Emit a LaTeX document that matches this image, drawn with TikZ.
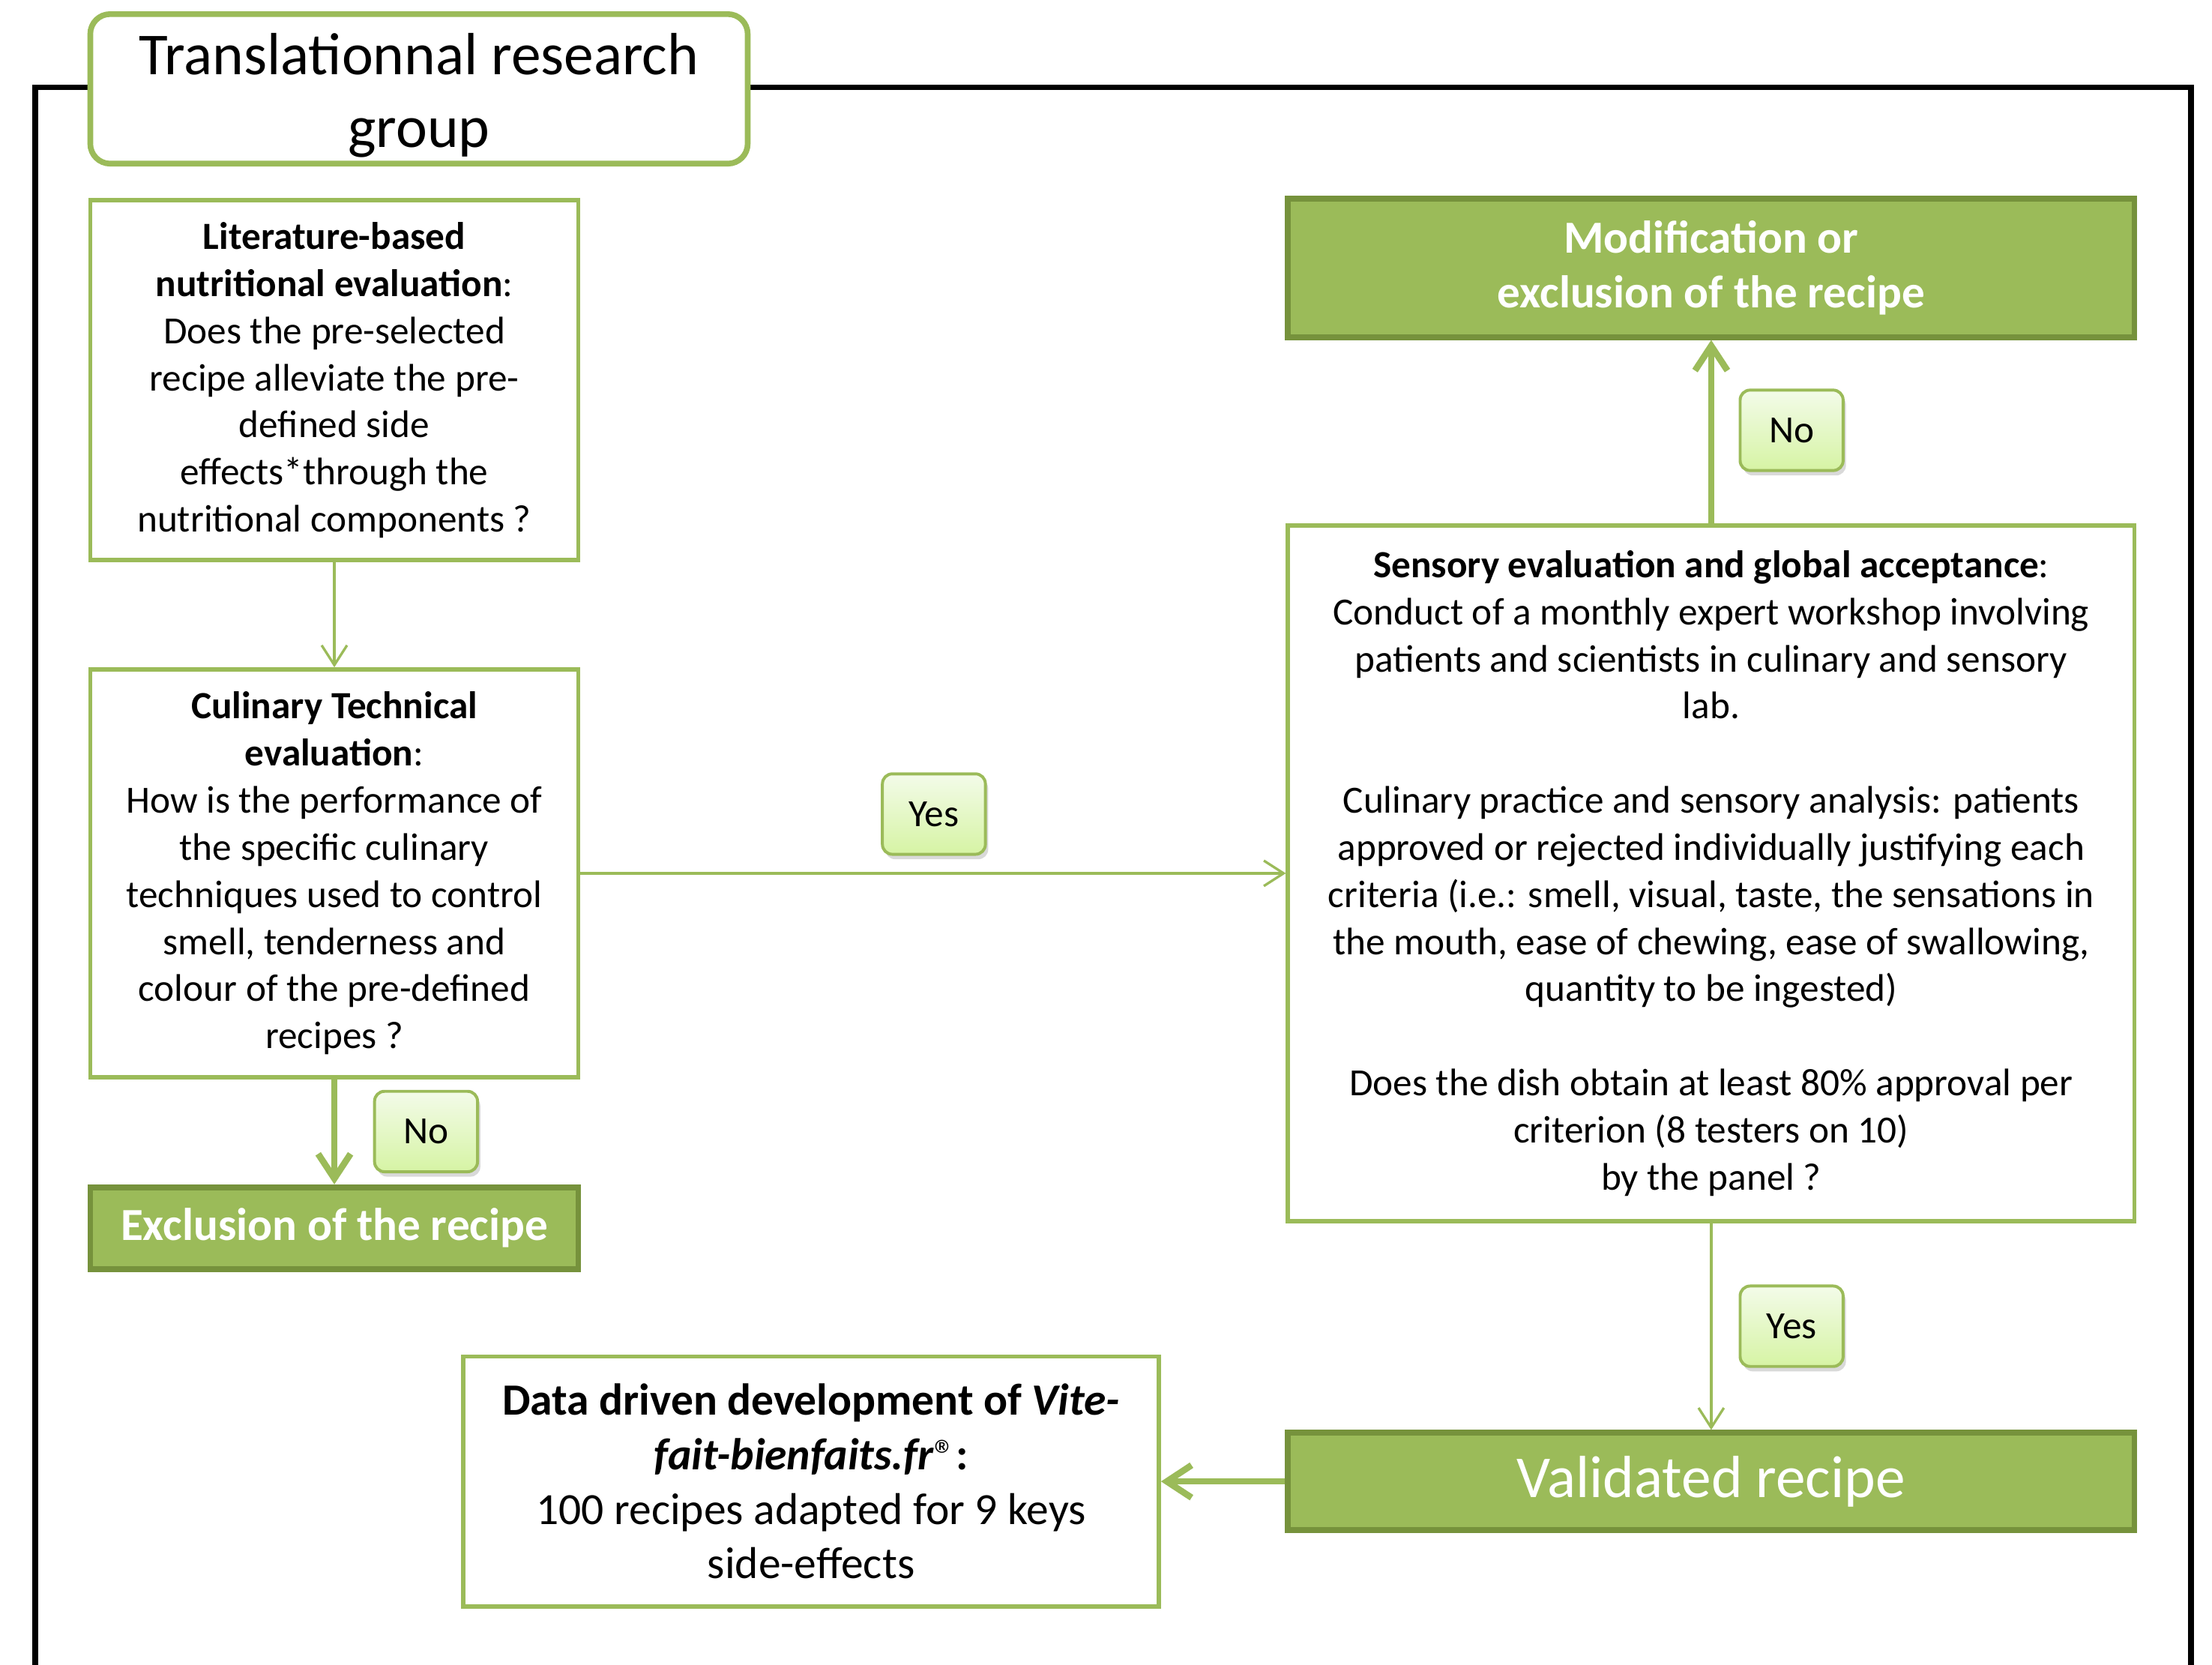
\documentclass[tikz,border=0pt]{standalone}
\usepackage{fontspec}
\setmainfont{Carlito}
\usepackage{tikz}
\usetikzlibrary{positioning,arrows.meta,shadows}
\definecolor{leaf}{HTML}{9BBB59}
\definecolor{moss}{HTML}{76923C}
\definecolor{sprouttop}{HTML}{F3FBE9}
\definecolor{sproutbot}{HTML}{D6F4A4}

\begin{document}
\begin{tikzpicture}[
node distance=1.49cm,
box/.style={draw=leaf, line width=1.7pt, fill=white, align=center, inner sep=0pt, minimum width=6.92cm, font=\fontsize{15.5}{19}\selectfont},
endbox/.style={draw=moss, line width=2.3pt, fill=leaf, text=white, align=center, inner sep=0pt, font=\fontsize{18.5}{22}\selectfont\bfseries},
answer/.style={draw=leaf, line width=1.2pt, rounded corners=4pt, top color=sprouttop, bottom color=sproutbot, drop shadow={opacity=0.3, shadow xshift=0.4mm, shadow yshift=-0.7mm}, minimum width=1.46cm, minimum height=1.14cm, font=\fontsize{15.5}{18}\selectfont},
arrow/.style={-{Straight Barb[length=2.8mm, width=3.6mm]}, line width=1pt, leaf},
bigarrow/.style={-{Straight Barb[length=3.5mm, width=4.6mm]}, line width=2.6pt, leaf}
]
\useasboundingbox (0,0) rectangle (31.36,23.60);
\draw[line width=2.3pt, line cap=rect] (0.5,0) |- (31.06,22.36) -- (31.06,0);

\node[draw=leaf, line width=2.3pt, rounded corners=8pt, fill=white, align=center, inner sep=0pt, minimum width=9.32cm, minimum height=2.12cm, font=\fontsize{24}{29.5}\selectfont] (title) at (5.94,22.34) {\rule{0pt}{22pt}Translationnal research\\group};

\node[box, minimum height=5.10cm] (lit) at (4.74,18.21) {\textbf{Literature-based}\\\textbf{nutritional evaluation}:\\Does the pre-selected\\recipe alleviate the pre-\\defined side\\effects*through the\\nutritional components ?};
\node[box, minimum height=5.78cm, below=of lit] (cul) {\textbf{Culinary Technical}\\\textbf{evaluation}:\\How is the performance of\\the specific culinary\\techniques used to control\\smell, tenderness and\\colour of the pre-defined\\recipes ?};
\node[endbox, minimum width=6.92cm, minimum height=1.16cm, below=of cul] (excl) {Exclusion of the recipe};

\node[box, minimum width=12cm, minimum height=9.86cm, right=10cm of cul] (sens) {\textbf{Sensory evaluation and global acceptance}:\\Conduct of a monthly expert workshop involving\\patients and scientists in culinary and sensory\\lab.\\[19pt]Culinary practice and sensory analysis: patients\\approved or rejected individually justifying each\\criteria (i.e.: smell, visual, taste, the sensations in\\the mouth, ease of chewing, ease of swallowing,\\quantity to be ingested)\\[19pt]Does the dish obtain at least 80\% approval per\\criterion (8 testers on 10)\\by the panel ?};
\node[endbox, minimum width=12cm, minimum height=1.96cm, above=2.6cm of sens] (modif) {Modification or\\exclusion of the recipe};
\node[endbox, minimum width=12cm, minimum height=1.38cm, below=2.93cm of sens, font=\fontsize{24}{28}\selectfont] (valid) {Validated recipe};
\node[box, minimum width=9.86cm, minimum height=3.54cm, left=1.76cm of valid, font=\fontsize{18}{22}\selectfont] (data) {\textbf{Data driven development of \textit{Vite-}}\\\textbf{\textit{fait-bienfaits.fr}}{\LARGE ®}\textbf{:}\\100 recipes adapted for 9 keys\\side-effects};

\draw[arrow] (lit) -- (cul);
\draw[bigarrow] (cul) -- (excl);
\draw[arrow] (cul) -- (sens);
\draw[bigarrow] (sens) -- (modif);
\draw[arrow] (sens) -- (valid);
\draw[bigarrow] (valid) -- (data);

\node[answer] (no1) at (6.04,7.56) {No};
\node[answer] (yes1) at (13.24,12.06) {Yes};
\node[answer] (no2) at (25.40,17.50) {No};
\node[answer] (yes2) at (25.40,4.80) {Yes};
\end{tikzpicture}
\end{document}
